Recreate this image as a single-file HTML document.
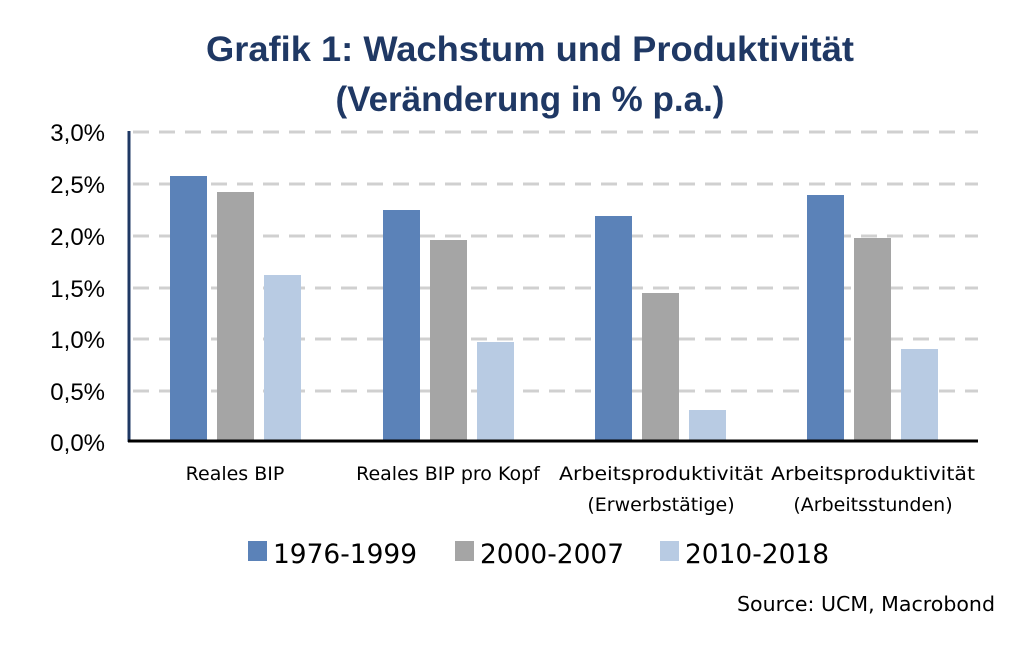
<!DOCTYPE html>
<html><head><meta charset="utf-8"><style>
html,body{margin:0;padding:0;background:#fff;width:1024px;height:660px;overflow:hidden}
</style></head><body>
<svg width="1024" height="660" xmlns="http://www.w3.org/2000/svg">
<g font-family="Liberation Sans, sans-serif" font-weight="bold" fill="#1f3864" font-size="35" text-anchor="middle">
<text x="530" y="61" textLength="648" lengthAdjust="spacingAndGlyphs">Grafik 1: Wachstum und Produktivität</text>
<text x="530" y="111">(Veränderung in % p.a.)</text>
</g>
<g stroke="#d0d0d0" stroke-width="3" stroke-dasharray="16,10">
<line x1="133" y1="132" x2="978" y2="132"/>
<line x1="133" y1="184" x2="978" y2="184"/>
<line x1="133" y1="236" x2="978" y2="236"/>
<line x1="133" y1="288" x2="978" y2="288"/>
<line x1="133" y1="339" x2="978" y2="339"/>
<line x1="133" y1="391" x2="978" y2="391"/>
</g>
<g>
<rect x="170" y="176" width="37" height="265" fill="#5b82b8"/>
<rect x="217" y="192" width="37" height="249" fill="#a5a5a5"/>
<rect x="264" y="275" width="37" height="166" fill="#b8cbe3"/>
<rect x="383" y="210" width="37" height="231" fill="#5b82b8"/>
<rect x="430" y="240" width="37" height="201" fill="#a5a5a5"/>
<rect x="477" y="342" width="37" height="99" fill="#b8cbe3"/>
<rect x="595" y="216" width="37" height="225" fill="#5b82b8"/>
<rect x="642" y="293" width="37" height="148" fill="#a5a5a5"/>
<rect x="689" y="410" width="37" height="31" fill="#b8cbe3"/>
<rect x="807" y="195" width="37" height="246" fill="#5b82b8"/>
<rect x="854" y="238" width="37" height="203" fill="#a5a5a5"/>
<rect x="901" y="349" width="37" height="92" fill="#b8cbe3"/>
</g>
<line x1="129" y1="131" x2="129" y2="442" stroke="#1f3864" stroke-width="3"/>
<line x1="128" y1="441" x2="978" y2="441" stroke="#000" stroke-width="3"/>
<g font-family="Liberation Sans, sans-serif" font-size="24" fill="#000" text-anchor="end">
<text x="105" y="141">3,0%</text>
<text x="105" y="193">2,5%</text>
<text x="105" y="245">2,0%</text>
<text x="105" y="297">1,5%</text>
<text x="105" y="348">1,0%</text>
<text x="105" y="400">0,5%</text>
<text x="105" y="451">0,0%</text>
</g>
<g font-family="DejaVu Sans, sans-serif" font-size="19" fill="#000" text-anchor="middle">
<text x="235" y="480">Reales BIP</text>
<text x="448" y="480">Reales BIP pro Kopf</text>
<text x="661" y="480" textLength="204" lengthAdjust="spacingAndGlyphs">Arbeitsproduktivität</text>
<text x="661" y="511">(Erwerbstätige)</text>
<text x="873" y="480" textLength="204" lengthAdjust="spacingAndGlyphs">Arbeitsproduktivität</text>
<text x="873" y="511">(Arbeitsstunden)</text>
</g>
<g font-family="DejaVu Sans, sans-serif" font-size="27" fill="#000">
<rect x="248" y="541" width="19" height="20" fill="#5b82b8"/>
<text x="273" y="563" textLength="144" lengthAdjust="spacingAndGlyphs">1976-1999</text>
<rect x="455" y="541" width="19" height="20" fill="#a5a5a5"/>
<text x="480" y="563" textLength="144" lengthAdjust="spacingAndGlyphs">2000-2007</text>
<rect x="660" y="541" width="19" height="20" fill="#b8cbe3"/>
<text x="685" y="563" textLength="144" lengthAdjust="spacingAndGlyphs">2010-2018</text>
</g>
<text x="995" y="611" font-family="DejaVu Sans, sans-serif" font-size="20" fill="#000" text-anchor="end" textLength="258" lengthAdjust="spacingAndGlyphs">Source: UCM, Macrobond</text>
</svg>
</body></html>
